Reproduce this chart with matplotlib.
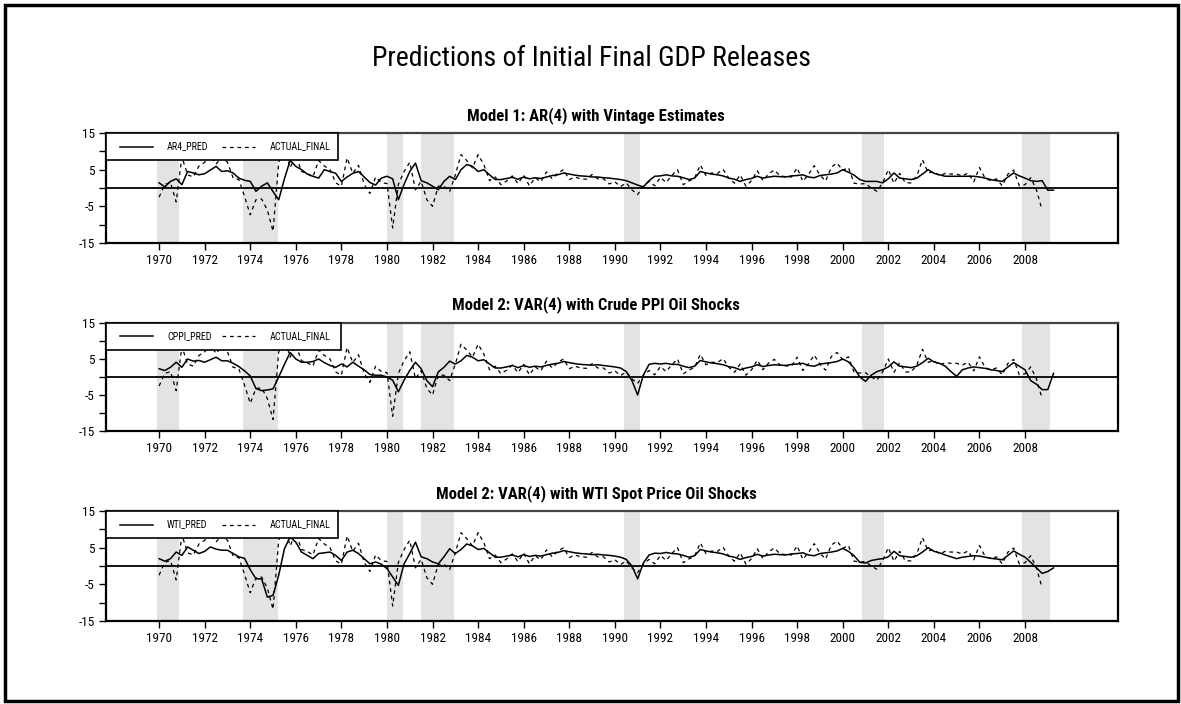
import matplotlib
matplotlib.use("Agg")
import matplotlib.pyplot as plt
from matplotlib import font_manager
from matplotlib.patches import Rectangle
import numpy as np

# ---------------------------------------------------------------------------
# Data: quarterly annualised real GDP growth, 1970Q1 onward
# ---------------------------------------------------------------------------
start_year = 1970

actual_final = [
    -2.5, 1.0, 1.5, -3.8,      # 1970
    8.5, 3.6, 3.0, 6.0,        # 1971
    7.0, 9.0, 6.5, 8.5,        # 1972
    7.0, 2.7, 2.3, -2.3,       # 1973
    -7.3, -3.2, -3.0, -6.0,    # 1974
    -11.8, 7.0, 11.0, 5.5,     # 1975
    9.0, 4.5, 4.0, 3.0,        # 1976
    7.5, 6.0, 5.0, 1.4,        # 1977
    0.5, 8.2, 4.0, 6.2,        # 1978
    1.0, -1.5, 3.0, 1.5,       # 1979
    1.2, -10.9, 1.0, 4.5,      # 1980
    7.0, -0.5, 1.8, -3.2,      # 1981
    -5.0, 0.5, 0.5, -1.0,      # 1982
    3.6, 9.1, 7.5, 5.5,        # 1983
    9.1, 6.4, 2.0, 3.0,        # 1984
    0.9, 1.9, 3.3, 1.2,        # 1985
    3.5, 0.6, 2.8, 1.7,        # 1986
    4.4, 2.5, 4.1, 5.0,        # 1987
    2.3, 3.0, 2.5, 2.4,        # 1988
    3.7, 2.5, 2.5, 1.1,        # 1989
    1.7, 0.4, 1.4, -0.5,       # 1990
    -1.8, 0.5, 1.8, 0.6,       # 1991
    2.9, 1.5, 3.4, 5.0,        # 1992
    0.9, 1.9, 2.7, 6.3,        # 1993
    3.4, 4.1, 4.0, 5.1,        # 1994
    2.7, 1.3, 3.6, 0.5,        # 1995
    2.0, 4.7, 2.0, 3.9,        # 1996
    4.9, 3.3, 3.1, 3.0,        # 1997
    5.5, 1.8, 3.7, 6.1,        # 1998
    3.5, 1.9, 5.7, 6.8,        # 1999
    4.8, 5.6, 1.3, 1.1,        # 2000
    1.2, 0.0, -0.9, 1.4,       # 2001
    5.0, 1.3, 4.0, 1.4,        # 2002
    1.4, 3.3, 7.7, 4.1,        # 2003
    4.5, 3.3, 4.0, 3.8,        # 2004
    3.8, 3.3, 4.1, 1.7,        # 2005
    5.6, 2.6, 2.0, 2.5,        # 2006
    0.6, 3.8, 4.9, 0.6,        # 2007
    0.9, 2.8, -0.5, -6.0,      # 2008
]

ar4_pred = [
    1.4, 0.3, 1.8, 2.5,        # 1970
    0.9, 4.5, 4.1, 3.6,        # 1971
    3.9, 4.9, 5.9, 4.5,        # 1972
    4.7, 4.1, 2.7, 2.1,        # 1973
    1.8, -0.9, 0.5, 1.4,       # 1974
    -1.0, -3.2, 2.5, 7.5,      # 1975
    5.9, 5.0, 3.8, 3.2,        # 1976
    2.7, 5.0, 4.5, 4.0,        # 1977
    1.8, 3.0, 4.0, 4.5,        # 1978
    3.0, 1.5, 0.8, 2.7,        # 1979
    3.2, 2.5, -3.2, 1.0,       # 1980
    4.5, 6.8, 2.0, 1.4,        # 1981
    0.5, -0.5, 1.8, 3.2,       # 1982
    2.3, 5.0, 6.4, 5.9,        # 1983
    4.5, 5.0, 3.6, 2.3,        # 1984
    2.3, 2.6, 2.9, 2.4,        # 1985
    3.0, 2.5, 2.8, 2.6,        # 1986
    3.0, 3.4, 3.6, 4.1,        # 1987
    3.8, 3.5, 3.3, 3.2,        # 1988
    3.0, 3.0, 2.8, 2.7,        # 1989
    2.5, 2.3, 2.0, 1.4,        # 1990
    0.8, 0.3, 2.0, 3.2,        # 1991
    3.3, 3.6, 3.3, 3.2,        # 1992
    2.8, 2.3, 2.7, 4.5,        # 1993
    4.1, 3.8, 3.6, 3.3,        # 1994
    2.7, 2.4, 1.8, 2.3,        # 1995
    2.6, 3.2, 2.7, 3.0,        # 1996
    3.2, 3.1, 3.0, 3.3,        # 1997
    3.4, 3.6, 3.0, 2.8,        # 1998
    3.4, 3.6, 3.8, 4.1,        # 1999
    5.0, 4.3, 3.5, 2.3,        # 2000
    1.8, 1.8, 1.8, 1.4,        # 2001
    2.5, 4.1, 2.7, 2.5,        # 2002
    2.3, 2.7, 3.8, 5.0,        # 2003
    4.0, 3.6, 3.2, 3.2,        # 2004
    3.2, 3.2, 3.2, 3.2,        # 2005
    3.0, 2.7, 2.3, 2.0,        # 2006
    1.8, 3.0, 4.1, 3.3,        # 2007
    2.7, 2.0, 1.8, 2.0,        # 2008
    -0.6, -0.6,                # 2009
]

cppi_pred = [
    2.3, 1.8, 2.7, 4.1,        # 1970
    2.7, 5.0, 4.4, 4.6,        # 1971
    4.1, 4.8, 5.5, 4.5,        # 1972
    4.5, 3.8, 2.9, 1.7,        # 1973
    0.3, -3.2, -3.8, -3.6,     # 1974
    -3.3, 0.0, 3.5, 6.8,       # 1975
    5.0, 4.1, 4.1, 4.3,        # 1976
    5.0, 4.0, 3.2, 2.7,        # 1977
    3.6, 2.8, 4.1, 3.0,        # 1978
    2.0, 0.7, 0.5, 0.5,        # 1979
    0.0, -0.9, -4.1, -0.9,     # 1980
    1.8, 4.1, 2.3, -1.0,       # 1981
    -2.7, 1.4, 2.7, 4.4,       # 1982
    3.6, 4.5, 6.0, 5.5,        # 1983
    4.5, 4.8, 3.6, 2.5,        # 1984
    2.5, 2.8, 3.2, 2.6,        # 1985
    3.2, 2.7, 3.0, 2.8,        # 1986
    3.2, 3.6, 3.8, 4.3,        # 1987
    4.0, 3.7, 3.5, 3.4,        # 1988
    3.3, 3.4, 3.2, 3.0,        # 1989
    2.8, 2.5, 1.5, -1.0,       # 1990
    -5.0, 0.5, 3.5, 3.8,       # 1991
    3.6, 3.8, 3.5, 3.5,        # 1992
    3.0, 2.6, 3.0, 4.6,        # 1993
    4.2, 3.9, 3.7, 3.4,        # 1994
    2.9, 2.6, 2.0, 2.5,        # 1995
    2.8, 3.4, 2.9, 3.2,        # 1996
    3.4, 3.3, 3.2, 3.5,        # 1997
    3.6, 3.8, 3.2, 3.0,        # 1998
    3.6, 3.8, 4.0, 4.3,        # 1999
    5.0, 4.2, 2.5, 0.0,        # 2000
    -1.2, 0.5, 1.5, 2.0,       # 2001
    2.8, 4.2, 3.0, 2.8,        # 2002
    2.6, 3.0, 4.0, 5.2,        # 2003
    4.2, 3.8, 3.0, 1.5,        # 2004
    0.2, 2.0, 2.5, 2.8,        # 2005
    2.6, 2.4, 2.0, 1.8,        # 2006
    1.5, 2.8, 4.0, 3.0,        # 2007
    2.0, -1.0, -2.0, -3.5,     # 2008
    -3.5, 1.0,                 # 2009
]

wti_pred = [
    2.0, 1.3, 2.0, 3.8,        # 1970
    2.9, 5.2, 4.3, 3.4,        # 1971
    4.0, 5.2, 4.6, 4.3,        # 1972
    4.3, 3.4, 2.5, 2.1,        # 1973
    -1.0, -3.5, -3.5, -8.5,    # 1974
    -8.0, -2.5, 4.7, 7.9,      # 1975
    6.5, 3.8, 2.9, 2.0,        # 1976
    3.4, 3.6, 3.8, 2.9,        # 1977
    1.5, 3.8, 4.3, 3.4,        # 1978
    2.0, 0.6, 1.1, 0.5,        # 1979
    -0.7, -3.0, -5.3, 0.6,     # 1980
    3.4, 6.5, 2.5, 2.0,        # 1981
    1.1, 0.6, 2.5, 4.7,        # 1982
    3.4, 4.5, 6.0, 5.5,        # 1983
    4.5, 4.8, 3.6, 2.4,        # 1984
    2.4, 2.7, 3.0, 2.5,        # 1985
    3.1, 2.6, 2.9, 2.7,        # 1986
    3.1, 3.5, 3.7, 4.2,        # 1987
    3.9, 3.6, 3.4, 3.3,        # 1988
    3.1, 3.2, 3.0, 2.9,        # 1989
    2.7, 2.4, 1.8, 0.0,        # 1990
    -3.5, 0.8, 3.0, 3.5,       # 1991
    3.4, 3.7, 3.4, 3.3,        # 1992
    2.9, 2.4, 2.8, 4.5,        # 1993
    4.1, 3.8, 3.6, 3.3,        # 1994
    2.7, 2.4, 1.8, 2.3,        # 1995
    2.6, 3.2, 2.7, 3.0,        # 1996
    3.2, 3.1, 3.0, 3.3,        # 1997
    3.4, 3.6, 3.0, 2.8,        # 1998
    3.4, 3.6, 3.8, 4.1,        # 1999
    4.8, 4.0, 2.8, 1.0,        # 2000
    0.8, 1.5, 1.8, 2.0,        # 2001
    2.5, 4.0, 2.8, 2.6,        # 2002
    2.4, 2.8, 3.8, 5.0,        # 2003
    4.0, 3.6, 3.0, 2.5,        # 2004
    2.0, 2.4, 2.6, 2.8,        # 2005
    2.7, 2.4, 2.1, 1.9,        # 2006
    1.7, 2.9, 4.1, 3.2,        # 2007
    2.4, 1.0, -0.5, -2.0,      # 2008
    -1.5, -0.5,                # 2009
]

recessions = [(1969.9, 1970.87), (1973.67, 1975.2), (1980.0, 1980.7),
              (1981.5, 1982.95), (1990.4, 1991.1), (2000.85, 2001.8),
              (2007.85, 2009.1)]

panels = [
    ("Model 1: AR(4) with Vintage Estimates", "AR4_PRED", ar4_pred),
    ("Model 2: VAR(4) with Crude PPI Oil Shocks", "CPPI_PRED", cppi_pred),
    ("Model 2: VAR(4) with WTI Spot Price Oil Shocks", "WTI_PRED", wti_pred),
]

main_title = "Predictions of Initial Final GDP Releases"
year_ticks = list(range(1970, 2009, 2))
y_ticks = [-15, -10, -5, 0, 5, 10, 15]
y_labels = ["-15", "", "-5", "", "5", "", "15"]

# ---------------------------------------------------------------------------
# Fonts: prefer a narrow sans face
# ---------------------------------------------------------------------------
available = {f.name for f in font_manager.fontManager.ttflist}
narrow_family = None
for cand in ["Liberation Sans Narrow", "Arial Narrow", "Roboto Condensed",
             "Open Sans Condensed", "DejaVu Sans Condensed"]:
    if cand in available:
        narrow_family = cand
        break
if narrow_family is None:
    narrow_family = "Liberation Sans"
plt.rcParams["font.family"] = [narrow_family, "DejaVu Sans"]

# ---------------------------------------------------------------------------
# Figure
# ---------------------------------------------------------------------------
W, H = 1181, 704
fig = plt.figure(figsize=(W / 100, H / 100), dpi=100)
fig.patch.set_facecolor("white")

# outer frame
fig.add_artist(Rectangle((5 / W, 3 / H), (W - 8) / W, (H - 8) / H,
                         transform=fig.transFigure, fill=False,
                         edgecolor="black", linewidth=2.5))

fig.text(591 / W, 1 - 66 / H, main_title, ha="center", va="baseline",
         fontsize=20)

ax_left, ax_right = 106, 1118
panel_px = [(133, 243, 116), (323, 431, 305), (511, 621, 494)]
legend_right = [338, 341, 338]

t_act = start_year + np.arange(len(actual_final)) / 4.0
xlim = (1967.67, 2012.08)

for (title, pred_name, pred), (top, bot, ty), lr in zip(panels, panel_px, legend_right):
    ax = fig.add_axes([ax_left / W, 1 - bot / H, (ax_right - ax_left) / W,
                       (bot - top) / H])
    t_pred = start_year + np.arange(len(pred)) / 4.0

    for a, b in recessions:
        ax.axvspan(a, b, color="#e3e3e3", linewidth=0, zorder=0)
    ax.axhline(0, color="black", linewidth=1.3, zorder=1)
    ax.plot(t_pred, pred, color="black", linewidth=1.1, zorder=3)
    ax.plot(t_act, actual_final, color="black", linewidth=0.9,
            dashes=(3.0, 3.0), zorder=2)

    ax.set_xlim(*xlim)
    ax.set_ylim(-15, 15)
    ax.set_xticks(year_ticks)
    ax.set_xticklabels([str(y) for y in year_ticks], fontsize=9.5)
    ax.set_yticks(y_ticks)
    ax.set_yticklabels(y_labels, fontsize=9.5)
    ax.tick_params(axis="both", direction="out", length=5, width=1.0,
                   colors="black", pad=3)
    for s in ax.spines.values():
        s.set_linewidth(1.6)
        s.set_color("black")
    ax.spines["top"].set_color("#444444")

    # legend block in the top-left corner
    lw_ax = (lr - ax_left) / (ax_right - ax_left)
    lh_ax = 27 / (bot - top)
    ax.add_patch(Rectangle((0, 1 - lh_ax), lw_ax, lh_ax, transform=ax.transAxes,
                           facecolor="white", edgecolor="black", linewidth=1.2,
                           zorder=5, clip_on=False))
    ym = 1 - lh_ax / 2
    px = lambda p: (p - ax_left) / (ax_right - ax_left)
    ax.plot([px(120), px(153)], [ym, ym], transform=ax.transAxes,
            color="black", linewidth=1.1, zorder=6, clip_on=False)
    ax.text(px(167), ym, pred_name, transform=ax.transAxes, fontsize=7.2,
            va="center", ha="left", zorder=6)
    ax.plot([px(222), px(255)], [ym, ym], transform=ax.transAxes,
            color="black", linewidth=0.9, dashes=(3.0, 3.0), zorder=6,
            clip_on=False)
    ax.text(px(270), ym, "ACTUAL_FINAL", transform=ax.transAxes, fontsize=7.2,
            va="center", ha="left", zorder=6)

    fig.text(596 / W, 1 - ty / H, title, ha="center", va="center",
             fontsize=12, fontweight="bold")

fig.savefig("out.png", dpi=100, facecolor="white")
